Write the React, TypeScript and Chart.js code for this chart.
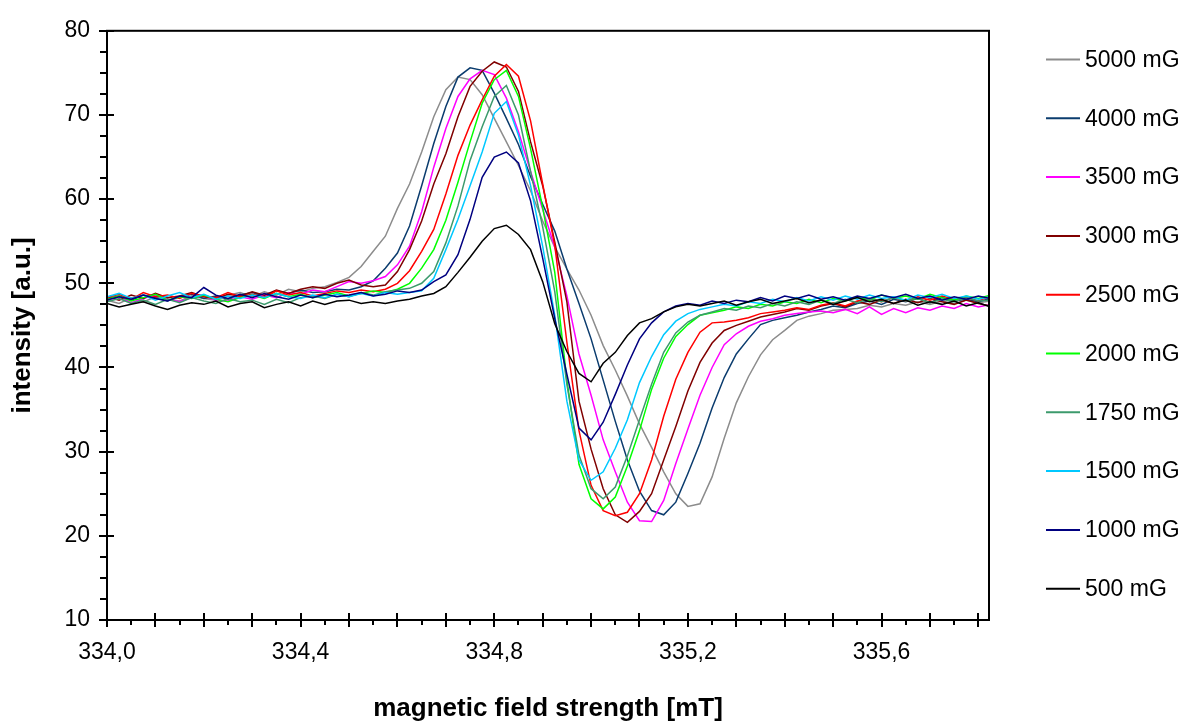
import React, { useEffect, useRef } from 'react';
import { Chart, registerables } from 'chart.js';

Chart.register(...registerables);

const FONT = '"Liberation Sans", Arial, Helvetica, sans-serif';

// magnetic field strength [mT]
const fieldValues = [
  334.000, 334.025, 334.050, 334.075, 334.100, 334.125, 334.150, 334.175, 334.200, 334.225,
  334.250, 334.275, 334.300, 334.325, 334.350, 334.375, 334.400, 334.425, 334.450, 334.475,
  334.500, 334.525, 334.550, 334.575, 334.600, 334.625, 334.650, 334.675, 334.700, 334.725,
  334.750, 334.775, 334.800, 334.825, 334.850, 334.875, 334.900, 334.925, 334.950, 334.975,
  335.000, 335.025, 335.050, 335.075, 335.100, 335.125, 335.150, 335.175, 335.200, 335.225,
  335.250, 335.275, 335.300, 335.325, 335.350, 335.375, 335.400, 335.425, 335.450, 335.475,
  335.500, 335.525, 335.550, 335.575, 335.600, 335.625, 335.650, 335.675, 335.700, 335.725,
  335.750, 335.775, 335.800, 335.825,
];

const s5000 = [
  48.0, 47.6, 48.3, 47.8, 48.4, 48.1, 47.9, 48.5, 48.2, 48.0, 48.6, 48.9, 48.4, 49.0, 48.6, 49.3, 49.0, 49.4,
  49.6, 50.1, 50.7, 52.0, 53.8, 55.6, 58.9, 61.8, 65.6, 69.8, 73.0, 74.5,
  74.2, 72.4, 69.6, 66.8, 64.0, 61.0, 57.4, 54.3, 51.7, 49.2, 46.2, 42.6,
  39.7, 36.6, 33.3, 30.5, 27.6, 25.0, 23.5, 23.8, 27.0, 31.6, 35.8, 38.9,
  41.5, 43.3, 44.4, 45.6, 46.1, 46.4, 46.8, 46.9, 47.0, 47.4, 47.2, 47.6,
  47.4, 47.8, 47.5, 47.9, 47.6, 48.0, 47.7, 47.9,
];
const s4000 = [
  48.2, 48.5, 48.0, 48.6, 48.3, 47.9, 48.4, 48.7, 48.2, 48.5, 48.1, 48.6, 48.9, 48.5, 49.1, 48.8, 49.2, 48.9,
  49.0, 49.3, 49.2, 49.6, 50.3, 51.8, 53.6, 56.8, 61.6, 66.6, 71.0, 74.5,
  75.6, 75.3, 72.6, 69.6, 66.5, 62.7, 59.4, 56.2, 51.7, 47.6, 43.4, 38.5,
  33.6, 29.0, 25.3, 23.0, 22.5, 24.0, 27.4, 31.0, 35.2, 38.8, 41.6, 43.4,
  45.1, 45.6, 45.9, 46.2, 46.6, 46.9, 47.3, 47.1, 47.6, 47.9, 47.5, 48.1,
  47.8, 48.2, 47.7, 48.3, 47.9, 48.1, 47.8, 48.2,
];
const s3500 = [
  48.0, 48.4, 47.7, 48.2, 48.6, 48.1, 47.8, 48.3, 48.5, 48.0, 47.9, 48.4, 48.1, 48.6, 48.3, 48.9, 48.7, 49.2,
  49.0, 49.6, 50.2, 50.0, 50.3, 50.8, 52.2, 54.4, 58.5, 63.8, 68.4, 72.2,
  74.3, 75.3, 74.8, 72.0, 68.0, 63.3, 58.8, 54.3, 48.5, 41.6, 36.7, 31.4,
  27.6, 24.0, 21.8, 21.7, 24.2, 28.6, 32.7, 36.7, 40.0, 42.7, 44.0, 44.9,
  45.5, 45.8, 46.2, 46.4, 46.6, 46.7, 46.5, 46.9, 46.4, 47.2, 46.3, 47.0,
  46.5, 47.1, 46.8, 47.3, 47.0, 47.6, 47.2, 47.5,
];
const s3000 = [
  48.4, 48.0, 48.6, 48.2, 48.8, 48.3, 48.5, 48.9, 48.4, 48.2, 48.7, 48.5, 49.0, 48.6, 49.2, 48.8, 49.3, 49.6,
  49.4, 50.0, 50.4, 49.8, 49.6, 49.8, 51.4, 54.0, 57.4, 61.8, 65.4, 69.8,
  73.4, 75.2, 76.3, 75.7, 72.8, 66.8, 61.6, 54.9, 47.8, 36.0, 30.3, 25.6,
  22.5, 21.6, 22.9, 25.0, 29.0, 33.0, 37.2, 40.6, 42.9, 44.4, 45.0, 45.5,
  46.0, 46.3, 46.6, 47.0, 46.8, 47.3, 47.6, 47.2, 47.8, 47.5, 48.0, 47.6,
  48.1, 47.7, 48.2, 47.8, 47.5, 48.0, 47.6, 47.3,
];
const s2500 = [
  48.3, 48.7, 48.1, 48.9, 48.4, 48.6, 48.2, 48.8, 48.5, 48.3, 48.9, 48.4, 48.7, 48.3, 49.1, 48.6, 48.9, 48.5,
  48.8, 49.1, 48.9, 49.2, 49.0, 49.3, 50.0, 51.5, 53.8, 56.4, 60.6, 65.2,
  68.8, 71.8, 74.6, 76.0, 74.6, 69.3, 61.8, 54.5, 43.0, 32.5, 26.0, 23.0,
  22.4, 22.8, 25.0, 29.0, 34.2, 38.6, 41.8, 44.2, 45.3, 45.4, 45.6, 45.9,
  46.4, 46.6, 46.8, 47.1, 46.9, 47.4, 47.7, 47.3, 47.9, 48.2, 47.8, 48.3,
  47.9, 48.4, 48.0, 48.5, 48.1, 48.3, 47.9, 48.5,
];
const s2000 = [
  48.1, 48.5, 47.9, 48.3, 48.7, 48.0, 48.4, 48.2, 48.6, 48.1, 47.8, 48.3, 48.6, 48.2, 48.8, 48.4, 48.7, 48.3,
  48.6, 48.9, 48.5, 48.8, 49.1, 48.9, 49.3, 50.0, 51.8, 54.0, 57.5, 62.0,
  66.8, 71.4, 74.2, 75.3, 72.2, 66.0, 59.0, 51.3, 38.5, 28.5, 24.4, 23.2,
  24.6, 28.3, 32.5, 37.4, 41.1, 43.7, 45.1, 46.2, 46.5, 46.8, 47.2, 47.0,
  47.5, 47.3, 47.8, 47.6, 48.1, 47.7, 48.2, 47.9, 48.4, 48.0, 48.6, 48.2,
  48.5, 48.1, 48.7, 48.3, 48.0, 48.5, 48.2, 48.6,
];
const s1750 = [
  47.8, 48.2, 47.6, 48.0, 47.5, 48.1, 47.7, 48.3, 47.9, 47.6, 48.2, 47.8, 48.0, 47.5, 48.1, 47.7, 48.3, 48.5,
  48.2, 48.7, 48.4, 48.9, 48.6, 49.0, 49.2, 49.4, 50.0, 51.4, 54.8, 59.2,
  64.6, 68.6, 72.2, 73.5, 70.0, 63.3, 56.7, 49.0, 38.0, 29.6, 25.6, 24.4,
  25.8, 29.5, 33.8, 38.0, 41.8, 44.1, 45.4, 46.2, 46.6, 47.0, 46.8, 47.3,
  47.1, 47.6, 47.3, 47.8, 47.5, 48.0, 47.6, 48.1, 47.7, 48.2, 47.8, 48.3,
  47.9, 48.2, 47.7, 48.1, 47.8, 48.3, 47.9, 48.0,
];
const s1500 = [
  48.4, 48.8, 48.2, 48.6, 48.0, 48.5, 48.9, 48.3, 48.7, 48.1, 48.5, 48.2, 48.6, 48.3, 48.8, 48.4, 48.2, 48.6,
  48.3, 48.7, 48.4, 48.8, 48.5, 48.9, 48.7, 48.9, 49.1, 50.6, 54.0, 57.6,
  61.6, 65.6, 70.2, 71.6, 67.6, 61.6, 54.4, 46.2, 36.0, 29.0, 26.6, 27.6,
  30.4, 33.8, 38.2, 41.3, 43.9, 45.5, 46.4, 46.9, 47.2, 47.5, 47.3, 47.8,
  47.6, 48.1, 47.8, 48.3, 47.9, 48.4, 48.0, 48.5, 48.1, 48.6, 48.2, 48.4,
  48.0, 48.6, 48.3, 48.7, 48.2, 48.5, 48.1, 48.4,
];
const s1000 = [
  48.0, 48.4, 48.1, 48.6, 48.2, 47.9, 48.5, 48.3, 49.5, 48.6, 48.2, 48.7, 48.3, 48.8, 48.4, 48.1, 48.6, 48.3,
  48.7, 48.4, 48.6, 48.9, 48.5, 48.7, 49.1, 48.9, 49.2, 50.2, 51.0, 53.4,
  57.6, 62.6, 65.0, 65.6, 64.3, 59.8, 53.0, 45.8, 39.2, 32.8, 31.4, 33.5,
  36.8, 40.3, 43.4, 45.3, 46.6, 47.3, 47.6, 47.4, 47.9, 47.6, 48.0, 47.8,
  48.3, 47.9, 48.5, 48.2, 48.6, 48.1, 48.4, 48.0, 48.5, 48.2, 48.6, 48.3,
  48.7, 48.2, 48.5, 48.0, 48.4, 48.1, 48.5, 48.2,
];
const s500 = [
  47.6, 47.2, 47.5, 47.8, 47.3, 46.9, 47.4, 47.7, 47.5, 47.9, 47.2, 47.6, 47.8, 47.1, 47.5, 47.8, 47.3, 47.9,
  47.5, 47.9, 48.0, 47.6, 47.8, 47.6, 47.9, 48.1, 48.5, 48.8, 49.6, 51.3,
  53.1, 55.0, 56.5, 56.9, 55.8, 54.0, 50.2, 45.2, 41.9, 39.3, 38.3, 40.5,
  41.8, 43.8, 45.3, 45.8, 46.6, 47.2, 47.5, 47.3, 47.6, 47.9, 47.4, 47.8,
  48.1, 47.6, 47.9, 48.2, 47.7, 48.0, 47.5, 47.9, 48.3, 47.8, 48.1, 47.6,
  48.0, 47.4, 47.8, 47.5, 47.9, 47.3, 47.7, 47.2,
];

const seriesLabels = ['5000 mG', '4000 mG', '3500 mG', '3000 mG', '2500 mG', '2000 mG', '1750 mG', '1500 mG', '1000 mG', '500 mG'];
const seriesColors = ['#8c8c8c', '#0b3c6e', '#ff00ff', '#800000', '#ff0000', '#00ff00', '#3c9a6c', '#00c8ff', '#000080', '#000000'];
const seriesValues = [s5000, s4000, s3500, s3000, s2500, s2000, s1750, s1500, s1000, s500];

const xTickValues = [334.0, 334.4, 334.8, 335.2, 335.6];
const yTickValues = [10, 20, 30, 40, 50, 60, 70, 80];

const framePlugin = {
  id: 'frameAndLegend',
  afterDraw(chart: any) {
    const { ctx, chartArea: a, scales } = chart;
    const xs = scales.x;
    const ys = scales.y;
    ctx.save();
    ctx.strokeStyle = '#000';
    ctx.lineWidth = 2;
    ctx.strokeRect(a.left, a.top, a.right - a.left, a.bottom - a.top);
    ctx.beginPath();
    for (let k = 0; k <= 36; k++) {
      const px = Math.round(xs.getPixelForValue(334 + k * 0.05));
      if (k % 2 === 0) {
        ctx.moveTo(px, a.bottom - 7);
        ctx.lineTo(px, a.bottom + 7);
      } else {
        ctx.moveTo(px, a.bottom);
        ctx.lineTo(px, a.bottom + 5);
      }
    }
    for (let k = 0; k <= 28; k++) {
      const py = Math.round(ys.getPixelForValue(10 + 2.5 * k));
      if (k % 4 === 0) {
        ctx.moveTo(a.left - 8, py);
        ctx.lineTo(a.left + 7, py);
      } else {
        ctx.moveTo(a.left - 7, py);
        ctx.lineTo(a.left, py);
      }
    }
    ctx.stroke();

    // legend
    ctx.font = `23px ${FONT}`;
    ctx.textAlign = 'left';
    ctx.textBaseline = 'middle';
    chart.data.datasets.forEach((ds: any, i: number) => {
      const y = 59.5 + i * 58.8;
      ctx.strokeStyle = ds.borderColor;
      ctx.lineWidth = 2;
      ctx.beginPath();
      ctx.moveTo(1046, y);
      ctx.lineTo(1080, y);
      ctx.stroke();
      ctx.fillStyle = '#000';
      ctx.fillText(ds.label, 1085, y + 1);
    });
    ctx.restore();
  },
};

export default function App() {
  const canvasRef = useRef<HTMLCanvasElement | null>(null);

  useEffect(() => {
    if (!canvasRef.current) return;
    const chart = new Chart(canvasRef.current, {
      type: 'line',
      data: {
        datasets: seriesValues.map((vals, i) => ({
          label: seriesLabels[i],
          data: fieldValues.map((x, j) => ({ x, y: vals[j] })),
          borderColor: seriesColors[i],
          backgroundColor: seriesColors[i],
          borderWidth: 1.5,
          pointRadius: 0,
          tension: 0,
          fill: false,
          order: seriesValues.length - i,
        })),
      },
      options: {
        responsive: false,
        animation: false,
        devicePixelRatio: 1,
        layout: { padding: { top: 26, right: 194, bottom: 0, left: 0 } },
        plugins: {
          legend: { display: false },
          tooltip: { enabled: false },
        },
        scales: {
          x: {
            type: 'linear',
            min: 334,
            max: 335.822,
            grid: { display: false, drawTicks: false },
            border: { display: false },
            ticks: {
              color: '#000',
              font: { family: FONT, size: 23 },
              padding: 19,
              maxRotation: 0,
              autoSkip: false,
              callback: (v: any) => Number(v).toFixed(1).replace('.', ','),
            },
            afterBuildTicks: (scale: any) => {
              scale.ticks = xTickValues.map((v) => ({ value: v }));
            },
            afterFit: (scale: any) => {
              scale.height = 102;
            },
            title: {
              display: true,
              text: 'magnetic field strength [mT]',
              color: '#000',
              font: { family: FONT, size: 26, weight: 'bold', lineHeight: 1 },
              padding: { top: 0, bottom: 0 },
            },
          },
          y: {
            type: 'linear',
            min: 10,
            max: 80,
            grid: { display: false, drawTicks: false },
            border: { display: false },
            ticks: {
              color: '#000',
              font: { family: FONT, size: 23 },
              padding: 17,
              autoSkip: false,
            },
            afterBuildTicks: (scale: any) => {
              scale.ticks = yTickValues.map((v) => ({ value: v }));
            },
            afterFit: (scale: any) => {
              scale.width = 107;
            },
            title: {
              display: true,
              text: 'intensity [a.u.]',
              color: '#000',
              font: { family: FONT, size: 26, weight: 'bold', lineHeight: 1 },
              padding: { top: 10, bottom: 0 },
            },
          },
        },
      },
      plugins: [framePlugin],
    } as any);
    return () => chart.destroy();
  }, []);

  return (
    <div style={{ position: 'fixed', left: 0, top: 0, width: 1183, height: 722, background: '#fff' }}>
      <canvas ref={canvasRef} width={1183} height={722} style={{ display: 'block' }} />
    </div>
  );
}
